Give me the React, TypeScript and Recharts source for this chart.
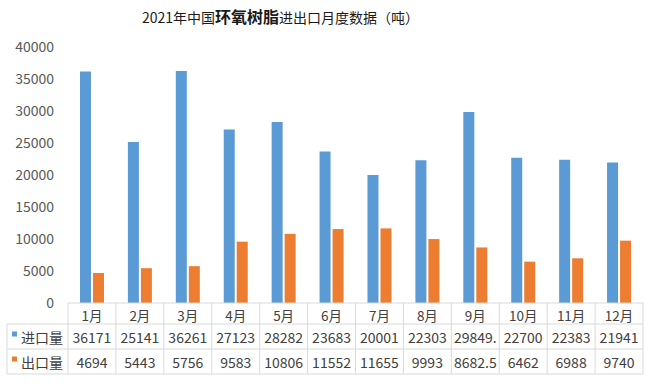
import React from 'react';
import { BarChart, Bar, XAxis, YAxis } from 'recharts';

const months = ['1月', '2月', '3月', '4月', '5月', '6月', '7月', '8月', '9月', '10月', '11月', '12月'];
const importVals = [36171, 25141, 36261, 27123, 28282, 23683, 20001, 22303, 29849.5, 22700, 22383, 21941];
const exportVals = [4694, 5443, 5756, 9583, 10806, 11552, 11655, 9993, 8682.5, 6462, 6988, 9740];
const yTicks = [0, 5000, 10000, 15000, 20000, 25000, 30000, 35000, 40000];
const seriesNames = ['进口量', '出口量'];

const BLUE = '#5b9bd5';
const ORANGE = '#ed7d31';
const LINE = '#d9d9d9';
const TEXT = '#404040';
const FONT = '"Noto Sans CJK SC", "Noto Sans", sans-serif';

const data = months.map((m, i) => ({ month: m, imp: importVals[i], exp: exportVals[i] }));

// table rows under the axis: header, import, export
const rowBottoms = [21, 46, 71];
const LEGEND_LEFT = 7;

const cut = (v: number) => {
  const s = String(v);
  return s.length > 6 ? s.slice(0, 6) : s;
};

const TableTick = (props: any) => {
  const { x, y, payload, index } = props;
  const half = payload && payload.offset ? payload.offset : 24;
  const left = x - half;
  const right = x + half;
  const i = index;
  const rows = [cut(importVals[i]), cut(exportVals[i])];
  return (
    <g>
      <line x1={left} x2={right} y1={y} y2={y} stroke={LINE} />
      {rowBottoms.map((b) => (
        <line key={b} x1={left} x2={right} y1={y + b} y2={y + b} stroke={LINE} />
      ))}
      <line x1={right} x2={right} y1={y} y2={y + rowBottoms[2]} stroke={LINE} />
      {i === 0 && <line x1={left} x2={left} y1={y} y2={y + rowBottoms[2]} stroke={LINE} />}
      <text x={x} y={y + rowBottoms[0] / 2 + 1} textAnchor="middle" dominantBaseline="central"
        fontSize={13.5} fill={TEXT} fontFamily={FONT}>{payload.value}</text>
      {rows.map((t, r) => (
        <text key={r} x={x} y={y + (rowBottoms[r] + rowBottoms[r + 1]) / 2} textAnchor="middle"
          dominantBaseline="central" fontSize={14} fill={TEXT} fontFamily={FONT}>{t}</text>
      ))}
      {i === 0 && (
        <g>
          <line x1={LEGEND_LEFT} x2={left} y1={y + rowBottoms[0]} y2={y + rowBottoms[0]} stroke={LINE} />
          <line x1={LEGEND_LEFT} x2={left} y1={y + rowBottoms[1]} y2={y + rowBottoms[1]} stroke={LINE} />
          <line x1={LEGEND_LEFT} x2={left} y1={y + rowBottoms[2]} y2={y + rowBottoms[2]} stroke={LINE} />
          <line x1={LEGEND_LEFT} x2={LEGEND_LEFT} y1={y + rowBottoms[0]} y2={y + rowBottoms[2]} stroke={LINE} />
          {seriesNames.map((n, r) => {
            const cy = y + (rowBottoms[r] + rowBottoms[r + 1]) / 2;
            return (
              <g key={n}>
                <rect x={LEGEND_LEFT + 5} y={cy - 5} width={5} height={5} fill={r === 0 ? BLUE : ORANGE} />
                <text x={LEGEND_LEFT + 14} y={cy} dominantBaseline="central" fontSize={14}
                  fill={TEXT} fontFamily={FONT}>{n}</text>
              </g>
            );
          })}
        </g>
      )}
    </g>
  );
};

export default function App() {
  return (
    <div style={{ position: 'absolute', left: 0, top: 0, width: 650, height: 384, background: '#fff' }}>
      <div style={{ position: 'absolute', left: 142, top: 5, fontFamily: FONT, fontSize: 14, lineHeight: '22px', color: '#1a1a1a', whiteSpace: 'nowrap' }}>
        2021年中国<span style={{ fontSize: 16, fontWeight: 'bold' }}>环氧树脂</span>进出口月度数据（吨）
      </div>
      <BarChart width={650} height={384} data={data} margin={{ top: 47, right: 7, bottom: 0, left: 0 }}
        barCategoryGap="25%" barGap={2}>
        <XAxis dataKey="month" height={81} interval={0} axisLine={false} tickLine={false}
          tickSize={0} tickMargin={0} tick={<TableTick />} />
        <YAxis width={68} domain={[0, 40000]} ticks={yTicks} axisLine={false} tickLine={false}
          tickSize={0} tickMargin={14} tick={{ fontSize: 14, fill: '#595959', fontFamily: FONT }} />
        <Bar dataKey="imp" name="进口量" fill={BLUE} isAnimationActive={false} />
        <Bar dataKey="exp" name="出口量" fill={ORANGE} isAnimationActive={false} />
      </BarChart>
    </div>
  );
}
